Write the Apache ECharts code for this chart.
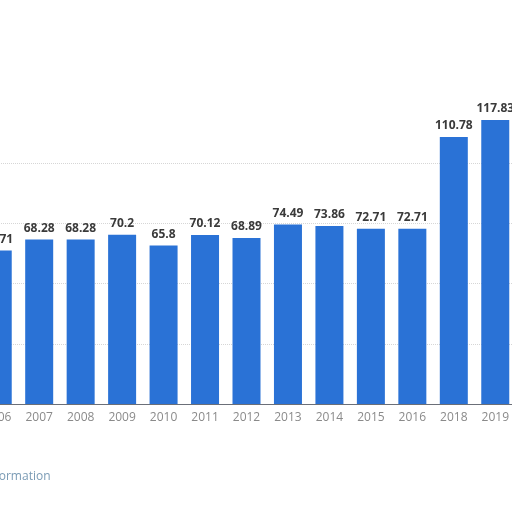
<!DOCTYPE html>
<html>
<head>
<meta charset="utf-8">
<script src="https://cdn.jsdelivr.net/npm/echarts@6/dist/echarts.min.js"></script>
<style>html,body{margin:0;padding:0;background:#fff}#c{width:512px;height:512px}</style>
</head>
<body>
<div id="c"></div>
<script>
const years = ['2006','2007','2008','2009','2010','2011','2012','2013','2014','2015','2016','2018','2019'];
const values = [63.71, 68.28, 68.28, 70.2, 65.8, 70.12, 68.89, 74.49, 73.86, 72.71, 72.71, 110.78, 117.83];
const yTicks = [0, 25, 50, 75, 100];

const chart = echarts.init(document.getElementById('c'));
chart.setOption({
  backgroundColor: '#ffffff',
  animation: false,
  grid: { left: -23, right: -4, top: 163, bottom: 108, containLabel: false, outerBoundsMode: 'none' },
  xAxis: {
    type: 'category',
    data: years,
    axisLine: { lineStyle: { color: '#6b6f78', width: 1 } },
    axisTick: { show: false },
    axisLabel: { color: '#8a8a8a', fontSize: 12, fontFamily: 'Open Sans', margin: 8 }
  },
  yAxis: {
    type: 'value',
    min: yTicks[0],
    max: yTicks[yTicks.length - 1],
    interval: 25,
    axisLine: { show: false },
    axisTick: { show: false },
    axisLabel: { show: false },
    splitLine: { lineStyle: { color: '#d6d6d6', type: 'dotted', width: 1 } }
  },
  series: [{
    type: 'bar',
    data: values,
    barWidth: 28,
    clip: false,
    itemStyle: { color: '#2a72d6' },
    label: {
      show: true,
      position: 'top',
      distance: 5,
      color: '#3a3a3a',
      fontSize: 12,
      fontWeight: 'bold',
      fontFamily: 'Open Sans'
    }
  }],
  graphic: [
    { type: 'text', left: -76, top: 471, style: { text: 'Additional Information', fill: '#7a9bb5', fontSize: 12, fontFamily: 'Open Sans' } }
  ]
});
</script>
</body>
</html>
